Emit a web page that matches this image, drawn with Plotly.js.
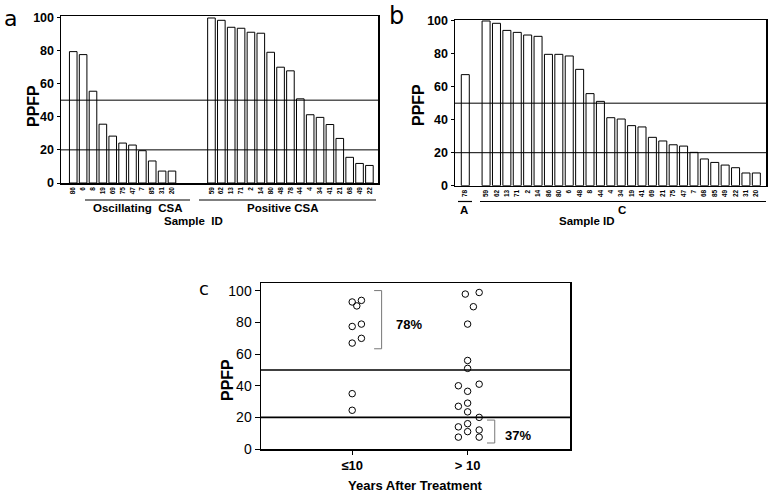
<!DOCTYPE html>
<html>
<head>
<meta charset="utf-8">
<script src="https://cdn.plot.ly/plotly-3.0.1.min.js"></script>
<style>
  html, body { margin: 0; padding: 0; background: #fff; }
  #chart { width: 771px; height: 494px; }
</style>
</head>
<body>
<div id="chart"></div>
<script>
// panel a: sample IDs and PPFP per CSA group
const oscIds = ['86', '6', '8', '19', '69', '75', '47', '7', '85', '31', '20'];
const oscPpfp = [79.3, 77.5, 55.4, 35.5, 28.3, 24.1, 22.9, 19.5, 13.3, 7.2, 7.2];
const posIds = ['59', '62', '13', '71', '2', '14', '80', '48', '78', '44', '4', '34', '41', '21', '68', '49', '22'];
const posPpfp = [99.6, 98.2, 94, 93.4, 91, 90.4, 78.9, 69.9, 67.7, 50.8, 41.2, 39.6, 35.3, 26.9, 15.5, 11.8, 10.6];

// panel b: groups A and C
const aIds = ['78'];
const aPpfp = [67.3];
const cIds = ['59', '62', '13', '71', '2', '14', '86', '80', '6', '48', '8', '44', '4', '34', '19', '41', '69', '21', '75', '47', '7', '68', '85', '49', '22', '31', '20'];
const cPpfp = [99.8, 98.4, 94.1, 92.9, 91.3, 90.5, 79.6, 79.6, 78.6, 70.5, 55.8, 51.1, 41.2, 40.4, 36.4, 35.6, 29.3, 27.1, 24.8, 24.0, 20.2, 16.2, 14.1, 12.5, 10.9, 7.7, 7.7];

// panel c: PPFP by years after treatment (offset = horizontal spread of the dots)
const yearCats = ['≤10', '> 10'];
const shortPpfp = [93, 90.5, 94, 77.5, 79, 67, 70, 35, 24.5];
const shortOffset = [0, 0.04, 0.08, 0, 0.08, 0, 0.08, 0, 0];
const longPpfp = [98, 99, 90, 79, 56, 51, 40, 41, 36.5, 27, 29, 23.5, 20, 14, 16, 11, 12, 7.5, 7.5];
const longOffset = [-0.02, 0.1, 0.05, 0, 0, 0, -0.08, 0.1, 0, -0.08, 0, 0, 0.1, -0.08, 0, 0, 0.1, -0.08, 0.1];
const shortPct = '78%';
const longPct = '37%';

const W = 771, H = 494;
const px = x => x / W;
const py = y => 1 - y / H;
const FONT = 'Liberation Sans, Arial, sans-serif';

const oscX = oscIds.map((_, i) => i);
const posX = posIds.map((_, i) => oscIds.length + 3 + i);
const aX = aIds.map((_, i) => i);
const cX = cIds.map((_, i) => aIds.length + 1 + i);

const barStyle = {
    type: 'bar',
    width: 0.77,
    marker: { color: '#fff', line: { color: '#000', width: 1 } },
    showlegend: false,
    hoverinfo: 'x+y'
};

const data = [
    Object.assign({ x: oscX, y: oscPpfp, xaxis: 'x', yaxis: 'y' }, barStyle),
    Object.assign({ x: posX, y: posPpfp, xaxis: 'x', yaxis: 'y' }, barStyle),
    Object.assign({ x: aX, y: aPpfp, xaxis: 'x2', yaxis: 'y2' }, barStyle),
    Object.assign({ x: cX, y: cPpfp, xaxis: 'x2', yaxis: 'y2' }, barStyle),
    {
        x: shortOffset.map(o => 0 + o), y: shortPpfp, xaxis: 'x3', yaxis: 'y3',
        type: 'scatter', mode: 'markers', showlegend: false,
        marker: { symbol: 'circle-open', size: 6.5, color: '#000', line: { width: 1 } }
    },
    {
        x: longOffset.map(o => 1 + o), y: longPpfp, xaxis: 'x3', yaxis: 'y3',
        type: 'scatter', mode: 'markers', showlegend: false,
        marker: { symbol: 'circle-open', size: 6.5, color: '#000', line: { width: 1 } }
    }
];

const barXAxis = (domain, range, vals, text) => ({
    domain: domain, range: range,
    tickvals: vals, ticktext: text, tickangle: -90,
    tickfont: { family: FONT, size: 6.5, weight: 'bold', color: '#000' },
    ticks: '', showgrid: false, zeroline: false,
    showline: true, linecolor: '#000', linewidth: 1.5, mirror: true
});
const barYAxis = (domain, range, anchor) => ({
    domain: domain, range: range, anchor: anchor,
    tickvals: [0, 20, 40, 60, 80, 100],
    tickfont: { family: FONT, size: 12.5, weight: 'bold', color: '#000' },
    ticks: 'outside', ticklen: 3, tickcolor: '#000',
    showgrid: false, zeroline: false,
    showline: true, linecolor: '#000', linewidth: 1.5, mirror: true
});

const xa = barXAxis([px(61), px(378)], [-1.24, 30.87], oscX.concat(posX), oscIds.concat(posIds));
xa.anchor = 'y';
const xb = barXAxis([px(455), px(766)], [-0.99, 28.93], aX.concat(cX), aIds.concat(cIds));
xb.anchor = 'y2';

const thresholds = [50, 20];
const shapes = [];
[['x', 'y', 1], ['x2', 'y2', 1], ['x3', 'y3', 1.6]].forEach(([xr, yr, w]) => {
    thresholds.forEach(t => shapes.push({
        type: 'line', xref: xr + ' domain', yref: yr, x0: 0, x1: 1, y0: t, y1: t,
        line: { color: '#000', width: w }
    }));
});

// group underlines below panels a and b
const underline = (x0, x1, y) => ({
    type: 'line', xref: 'paper', yref: 'paper',
    x0: px(x0), x1: px(x1), y0: py(y), y1: py(y),
    line: { color: '#000', width: 1.2 }
});
shapes.push(underline(85, 190, 200), underline(199, 376, 200));
shapes.push(underline(458, 472, 201.5), underline(480, 766, 201.5));

// brackets in panel c
const bracket = (xl, xr, yTop, yBot) => ({
    type: 'path', xref: 'x3', yref: 'y3',
    path: `M ${xl} ${yTop} L ${xr} ${yTop} L ${xr} ${yBot} L ${xl} ${yBot}`,
    line: { color: '#777', width: 1 }
});
shapes.push(bracket(0.19, 0.255, 100.2, 63.4), bracket(1.168, 1.235, 18.3, 3.8));

const txt = (text, x, y, size, opts) => Object.assign({
    text: text, x: px(x), y: py(y), xref: 'paper', yref: 'paper',
    showarrow: false, xanchor: 'center', yanchor: 'middle',
    font: { family: FONT, size: size, color: '#000', weight: 'bold' }
}, opts || {});
const letter = (text, x, y, size) => txt(text, x, y, size, {
    font: { family: 'DejaVu Sans, sans-serif', size: size, color: '#000' }
});

const annotations = [
    letter('a', 10, 19, 22),
    letter('b', 397, 16, 24),
    letter('c', 204, 288, 18),
    txt('PPFP', 33, 106, 16, { textangle: -90 }),
    txt('PPFP', 418, 105, 16, { textangle: -90 }),
    txt('PPFP', 227, 380, 16, { textangle: -90 }),
    txt('Oscillating  CSA', 137, 208, 11.5),
    txt('Positive CSA', 283, 208, 11.5),
    txt('Sample  ID', 193, 221, 11.5),
    txt('A', 464, 210, 11.5),
    txt('C', 622, 210, 11.5),
    txt('Sample ID', 587, 221, 11.5),
    txt('Years After Treatment', 415, 485, 13),
    {
        text: shortPct, x: 0.496, y: 79, xref: 'x3', yref: 'y3', showarrow: false,
        font: { family: FONT, size: 13, color: '#000', weight: 'bold' }
    },
    {
        text: longPct, x: 1.44, y: 8.6, xref: 'x3', yref: 'y3', showarrow: false,
        font: { family: FONT, size: 13, color: '#000', weight: 'bold' }
    }
];

const layout = {
    width: W, height: H,
    margin: { l: 0, r: 0, t: 0, b: 0 },
    paper_bgcolor: '#fff', plot_bgcolor: '#fff',
    font: { family: FONT, color: '#000' },
    showlegend: false,
    xaxis: xa,
    yaxis: barYAxis([py(183), py(16)], [0, 100.8], 'x'),
    xaxis2: xb,
    yaxis2: barYAxis([py(185.7), py(20)], [0, 100.4], 'x2'),
    xaxis3: {
        domain: [px(261), px(570)], range: [-0.79, 1.887], anchor: 'y3',
        tickvals: [0, 1], ticktext: yearCats,
        tickfont: { family: FONT, size: 13, weight: 'bold', color: '#000' },
        ticks: 'outside', ticklen: 4, tickcolor: '#000',
        showgrid: false, zeroline: false,
        showline: true, linecolor: '#000', linewidth: 1.5, mirror: true
    },
    yaxis3: {
        domain: [py(449), py(283)], range: [0, 105], anchor: 'x3',
        tickvals: [0, 20, 40, 60, 80, 100],
        tickfont: { family: FONT, size: 14, color: '#000' },
        ticks: 'outside', ticklen: 5, tickcolor: '#000',
        showgrid: false, zeroline: false,
        showline: true, linecolor: '#000', linewidth: 1.5, mirror: true
    },
    shapes: shapes,
    annotations: annotations
};

Plotly.newPlot('chart', data, layout, { displayModeBar: false, staticPlot: true });
</script>
</body>
</html>
